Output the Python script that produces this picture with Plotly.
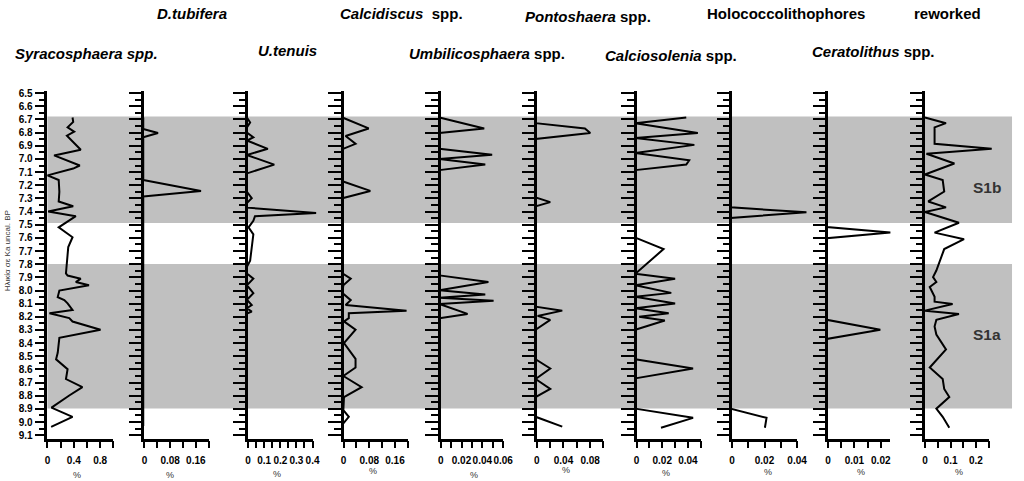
import plotly.graph_objects as go

W, H = 1024, 481

# ---------------- data (age in Ka uncal. BP, abundance in %) ----------------
syra_age = [6.685, 6.718, 6.76, 6.793, 6.823, 6.93, 6.973, 7.05, 7.073, 7.125, 7.16, 7.25, 7.323, 7.36,
            7.40, 7.435, 7.52, 7.595, 7.67, 7.77, 7.87, 7.886, 7.91, 7.936, 7.96, 8.0, 8.05, 8.073, 8.098,
            8.148, 8.173, 8.21, 8.236, 8.298, 8.36, 8.473, 8.523, 8.598, 8.673, 8.735, 8.798, 8.89, 8.96, 9.036]
syra_val = [0.40, 0.41, 0.325, 0.425, 0.315, 0.525, 0.12, 0.51, 0.41, 0.02, 0.19, 0.2, 0.19, 0.41,
            0.03, 0.45, 0.19, 0.40, 0.335, 0.315, 0.30, 0.325, 0.525, 0.45, 0.65, 0.2, 0.175, 0.275, 0.325,
            0.40, 0.05, 0.35, 0.4, 0.825, 0.2, 0.175, 0.15, 0.325, 0.3, 0.55, 0.35, 0.08, 0.4, 0.075]

dtub_age = [6.685, 6.773, 6.803, 6.835, 7.16, 7.243, 7.285, 9.03]
dtub_val = [0, 0, 0.046, 0, 0, 0.18, 0, 0]

uten_age = [6.685, 6.723, 6.76, 6.80, 6.835, 6.86, 6.923, 6.97, 7.043, 7.11, 7.25, 7.298, 7.335, 7.37,
            7.41, 7.435, 7.47, 7.52, 7.573, 7.673, 7.773, 7.82, 7.87, 7.91, 7.96, 8.02, 8.07, 8.11,
            8.135, 8.16, 8.175]
uten_val = [0, 0.02, 0, 0, 0.04, 0, 0.13, 0, 0.17, 0, 0, 0.03, 0, 0,
            0.43, 0.05, 0.04, 0.01, 0.04, 0.03, 0.02, 0, 0, 0.04, 0, 0.04, 0, 0.03,
            0, 0.03, 0]

calc_age = [6.685, 6.768, 6.825, 6.885, 6.925, 7.17, 7.243, 7.298, 7.87, 7.91, 7.96, 8.02, 8.073, 8.11,
            8.153, 8.173, 8.21, 8.235, 8.298, 8.40, 8.52, 8.585, 8.65, 8.735, 8.81, 8.91, 8.96, 9.01]
calc_val = [0, 0.082, 0.01, 0.041, 0, 0, 0.087, 0, 0, 0.026, 0.003, 0, 0.026, 0.01,
            0.2, 0.02, 0.02, 0.005, 0.041, 0.005, 0.041, 0.041, 0.003, 0.06, 0.005, 0.003, 0.02, 0.003]

umbi_age = [6.685, 6.768, 6.803, 6.923, 6.968, 7.0, 7.043, 7.085, 7.885, 7.935, 7.998, 8.03, 8.055,
            8.078, 8.103, 8.178, 8.21]
umbi_val = [0, 0.043, 0, 0, 0.0506, 0, 0.044, 0, 0, 0.047, 0, 0.044, 0,
            0.052, 0, 0.027, 0]

pont_age = [6.685, 6.728, 6.768, 6.803, 6.848, 7.293, 7.328, 7.36, 8.123, 8.153, 8.193, 8.223, 8.298,
            8.523, 8.593, 8.673, 8.748, 8.81, 8.96, 9.035]
pont_val = [0, 0, 0.074, 0.082, 0, 0, 0.022, 0, 0, 0.04, 0.003, 0.022, 0,
            0, 0.022, 0, 0.022, 0, 0, 0.04]

cals_age = [6.685, 6.728, 6.803, 6.84, 6.893, 6.955, 7.01, 7.043, 7.085, 7.598, 7.685, 7.873, 7.91, 7.96,
            8.018, 8.048, 8.098, 8.135, 8.173, 8.2, 8.228, 8.298, 8.523, 8.593, 8.668, 8.898, 8.968, 9.043]
cals_val = [0.0397, 0, 0.0487, 0, 0.046, 0, 0.042, 0.0397, 0, 0, 0.022, 0, 0.031, 0,
            0.028, 0, 0.031, 0, 0.026, 0.003, 0.023, 0, 0, 0.045, 0, 0, 0.045, 0.02]

holo_age = [6.685, 7.368, 7.405, 7.448, 8.898, 8.968, 9.043]
holo_val = [0, 0, 0.0465, 0, 0, 0.022, 0.021]

cera_age = [6.685, 7.518, 7.56, 7.603, 8.223, 8.298, 8.368, 9.04]
cera_val = [0, 0, 0.0241, 0, 0, 0.0203, 0, 0]

rewo_age = [6.685, 6.728, 6.76, 6.885, 6.923, 6.96, 7.035, 7.118, 7.16, 7.248, 7.323, 7.368, 7.403,
            7.485, 7.56, 7.61, 7.685, 7.848, 7.898, 7.935, 7.973, 8.048, 8.085, 8.103, 8.153, 8.178,
            8.223, 8.273, 8.335, 8.448, 8.585, 8.673, 8.748, 8.81, 8.898, 8.96, 9.043]
rewo_val = [0.004, 0.087, 0.042, 0.042, 0.267, 0.01, 0.12, 0.004, 0.074, 0.08, 0.017, 0.087, 0.004,
            0.138, 0.042, 0.158, 0.08, 0.049, 0.036, 0.049, 0.023, 0.042, 0.042, 0.113, 0.004, 0.138,
            0.049, 0.042, 0.049, 0.087, 0.023, 0.074, 0.08, 0.1, 0.049, 0.074, 0.1]

titles = ["<b><i>Syracosphaera spp.</i></b>", "<b><i>D.tubifera</i></b>", "<b><i>U.tenuis</i></b>",
          "<b><i>Calcidiscus</i>  spp.</b>", "<b><i>Umbilicosphaera</i> spp.</b>",
          "<b><i>Pontoshaera</i> spp.</b>", "<b><i>Calciosolenia</i> spp.</b>",
          "<b>Holococcolithophores</b>", "<b><i>Ceratolithus</i> spp.</b>", "<b>reworked</b>"]

x_ticks = [[0, 0.2, 0.4, 0.6, 0.8, 1.0],
           [0, 0.04, 0.08, 0.12, 0.16, 0.2],
           [0, 0.05, 0.1, 0.15, 0.2, 0.25, 0.3, 0.35, 0.4],
           [0, 0.04, 0.08, 0.12, 0.16, 0.2],
           [0, 0.01, 0.02, 0.03, 0.04, 0.05, 0.06],
           [0, 0.02, 0.04, 0.06, 0.08, 0.1],
           [0, 0.01, 0.02, 0.03, 0.04, 0.05],
           [0, 0.01, 0.02, 0.03, 0.04],
           [0, 0.005, 0.01, 0.015, 0.02],
           [0, 0.05, 0.1, 0.15, 0.2, 0.25]]
x_ticktext = [["0", "", "0.4", "", "0.8", ""],
              ["0", "", "0.08", "", "0.16", ""],
              ["0", "", "0.1", "", "0.2", "", "0.3", "", "0.4"],
              ["0", "", "0.08", "", "0.16", ""],
              ["0", "", "0.02", "", "0.04", "", "0.06"],
              ["0", "", "0.04", "", "0.08", ""],
              ["0", "", "0.02", "", "0.04", ""],
              ["0", "", "0.02", "", "0.04"],
              ["0", "", "0.01", "", "0.02"],
              ["0", "", "0.1", "", "0.2", ""]]
x_max = [1.0, 0.2, 0.4, 0.2, 0.06, 0.1, 0.05, 0.04, 0.0235, 0.25]

ages = [syra_age, dtub_age, uten_age, calc_age, umbi_age, pont_age, cals_age, holo_age, cera_age, rewo_age]
vals = [syra_val, dtub_val, uten_val, calc_val, umbi_val, pont_val, cals_val, holo_val, cera_val, rewo_val]

bands = [(6.678, 7.487), (7.798, 8.897)]
band_labels = [("S1b", 7.218), ("S1a", 8.335)]

# ---------------- layout geometry (pixels) ----------------
ax_left = [45, 143.3, 248.3, 345, 443.3, 540.7, 641.7, 738.3, 835.7, 934]
ax_right = [111.7, 208.3, 313.5, 410, 506.6, 608.2, 706.7, 804.3, 898.4, 998.3]
title_pos = [(85, 50), (191, 10), (288, 47), (404, 10), (490, 50), (593, 13), (677, 52), (793, 10),
             (882, 48), (957, 10)]
pct_pos = [(75, 477), (169, 477), (278, 476), (375, 473), (477, 477), (570, 472), (672, 475),
           (775, 474), (869, 474), (968, 474)]

Y_TOP, Y_BOT = 88.3, 440.0
Y_RANGE = [9.125, 6.485]
FONT = "Liberation Sans, Arial, sans-serif"
AXLW = 2.5

def px(x):
    return x / W

def py(y):
    return 1 - y / H

ydom = [py(Y_BOT), py(Y_TOP)]
EXT = 40  # extra pixels so peaks can pass the end of an axis

fig = go.Figure()
layout = {}
for i in range(10):
    n = i + 1
    m = i + 11
    xa = "x" if n == 1 else f"x{n}"
    ya = "y" if n == 1 else f"y{n}"
    # visible axis pair (empty trace keeps the subplot alive)
    fig.add_trace(go.Scatter(x=[], y=[], xaxis=xa, yaxis=ya, showlegend=False))
    major = 10 if i == 0 else 12.5
    minor = 5.5 if i == 0 else 6.5
    layout[f"xaxis{n}"] = dict(
        domain=[px(ax_left[i]), px(ax_right[i])], range=[0, x_max[i]], anchor=ya,
        tickmode="array", tickvals=x_ticks[i], ticktext=x_ticktext[i], tickangle=0,
        ticks="outside", ticklen=7, tickwidth=2, tickcolor="black",
        showline=True, linewidth=AXLW, linecolor="black", showgrid=False, zeroline=False,
        tickfont=dict(family=FONT, size=10, color="black", weight="bold"),
        ticklabelstandoff=4, fixedrange=True)
    layout[f"yaxis{n}"] = dict(
        domain=ydom, range=Y_RANGE, anchor=xa,
        tickmode="linear", tick0=6.5, dtick=0.1, tickformat=".1f", tickangle=0,
        ticks="outside", ticklen=major, tickwidth=2, tickcolor="black",
        minor=dict(dtick=0.05, tick0=6.5, ticks="outside", ticklen=minor, tickwidth=2,
                   tickcolor="black", showgrid=False),
        showticklabels=(i == 0),
        showline=True, linewidth=AXLW, linecolor="black", showgrid=False, zeroline=False,
        tickfont=dict(family=FONT, size=10, color="black", weight="bold"),
        fixedrange=True)
    # data axis pair: same scale, zero placed on the centre of the drawn axis line,
    # a bit wider so peaks passing the end of an axis are not clipped
    scale = (ax_right[i] - ax_left[i]) / x_max[i]
    off = AXLW / 2
    right_ext = min(ax_right[i] + EXT, 1022)
    ext_max = (right_ext - ax_left[i]) / scale
    layout[f"xaxis{m}"] = dict(domain=[px(ax_left[i] - off), px(right_ext - off)], range=[0, ext_max],
                               anchor=f"y{m}", visible=False, fixedrange=True)
    layout[f"yaxis{m}"] = dict(domain=ydom, range=Y_RANGE, anchor=f"x{m}", visible=False,
                               fixedrange=True)
    fig.add_trace(go.Scatter(x=vals[i], y=ages[i], xaxis=f"x{m}", yaxis=f"y{m}", mode="lines",
                             line=dict(color="black", width=2), showlegend=False,
                             hoverinfo="skip"))

shapes = []
for (a, b) in bands:
    shapes.append(dict(type="rect", xref="paper", yref="y", x0=px(45), x1=px(1022), y0=a, y1=b,
                       fillcolor="rgb(192,192,192)", line=dict(width=0), layer="below"))

ann = []
for i, t in enumerate(titles):
    ann.append(dict(text=t, x=px(title_pos[i][0]), y=py(title_pos[i][1]), xref="paper", yref="paper",
                    showarrow=False, xanchor="center", yanchor="middle",
                    font=dict(family=FONT, size=15, color="black")))
for (x, y) in pct_pos:
    ann.append(dict(text="%", x=px(x), y=py(y), xref="paper", yref="paper", showarrow=False,
                    xanchor="center", yanchor="middle", font=dict(family=FONT, size=9, color="#333333")))
for (lab, a) in band_labels:
    ann.append(dict(text=f"<b>{lab}</b>", x=px(997), y=a, xref="paper", yref="y", showarrow=False,
                    xanchor="center", yanchor="middle", font=dict(family=FONT, size=15.5, color="#333333")))
ann.append(dict(text="Ηλικία σε Ka uncal. BP", x=px(4.5), y=py(250), xref="paper", yref="paper",
                showarrow=False, textangle=-90, xanchor="center", yanchor="middle",
                font=dict(family=FONT, size=8, color="#333333")))

fig.update_layout(width=W, height=H, autosize=False, margin=dict(l=0, r=0, t=0, b=0, pad=0),
                  paper_bgcolor="white", plot_bgcolor="rgba(0,0,0,0)", shapes=shapes,
                  annotations=ann, showlegend=False, **layout)

fig.write_html("out.html")
